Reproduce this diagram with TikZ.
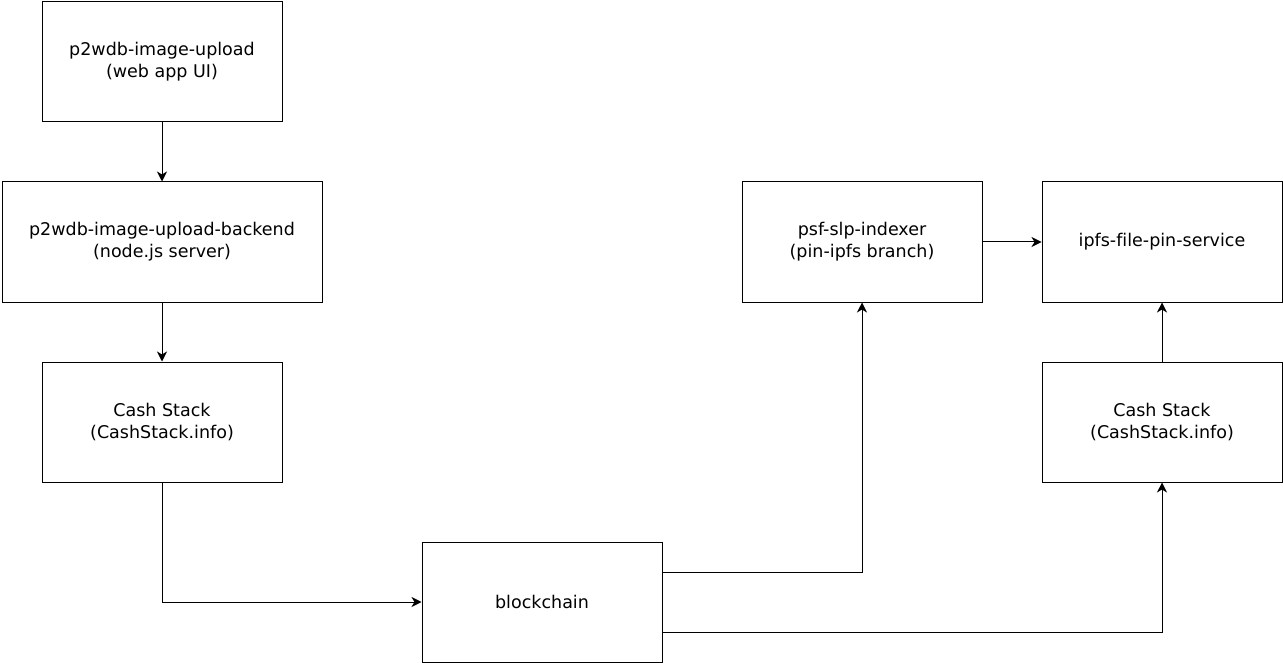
\documentclass[tikz,border=0pt]{standalone}
\usepackage{fontspec}
\setmainfont{DejaVu Sans}[Ligatures=NoCommon]
\usetikzlibrary{arrows.meta}
\begin{document}
\begin{tikzpicture}[x=1pt,y=-1pt,
  box/.style={draw,line width=1pt,minimum height=120pt,inner sep=0pt,align=center,font=\fontsize{17.5}{22}\selectfont},
  link/.style={line width=1pt,-{Stealth[length=10pt,width=10pt,inset=3pt]}}]
\useasboundingbox (0,0) rectangle (1283,663);
% left column
\node[box,minimum width=240pt] (ui) at (162,62) {p2wdb-image-upload\\(web app UI)};
\node[box,minimum width=320pt] (backend) at (162,242) {p2wdb-image-upload-backend\\(node.js server)};
\node[box,minimum width=240pt] (cashL) at (162,422) {Cash Stack\\(CashStack.info)};
% bottom
\node[box,minimum width=240pt] (chain) at (542,602) {blockchain};
% right side
\node[box,minimum width=240pt] (indexer) at (862,242) {psf-slp-indexer\\(pin-ipfs branch)};
\node[box,minimum width=240pt] (pin) at (1162,242) {ipfs-file-pin-service};
\node[box,minimum width=240pt] (cashR) at (1162,422) {Cash Stack\\(CashStack.info)};
\coordinate (chainA) at (662,572);
\coordinate (chainB) at (662,632);
% connectors
\draw[link] (ui) -- (backend);
\draw[link] (backend) -- (cashL);
\draw[link] (cashL.south) |- (chain.west);
\draw[link] (chainA) -| (indexer.south);
\draw[link] (chainB) -| (cashR.south);
\draw[link] (indexer) -- (pin);
\draw[link] (cashR) -- (pin);
\end{tikzpicture}
\end{document}
